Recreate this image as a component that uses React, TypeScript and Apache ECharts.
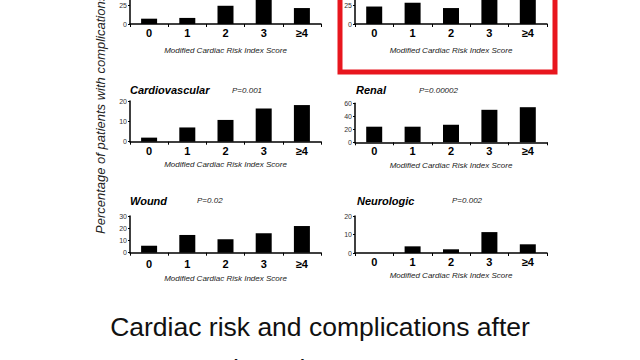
import React, { useEffect, useRef } from "react";
import * as echarts from "echarts";

const categories = ["0", "1", "2", "3", "≥4"];
const topLeftValues = [7, 8, 24, 38, 21];
const topRightValues = [23, 28, 21, 40, 40];
const cardiovascularValues = [2, 7, 10.7, 16.3, 18];
const renalValues = [24, 24, 27, 50, 54];
const woundValues = [5.7, 14.5, 11, 15.8, 21.8];
const neurologicValues = [0, 3.6, 2, 11.3, 4.7];

const panelTitles = ["", "", "Cardiovascular", "Renal", "Wound", "Neurologic"];
const pValues = ["", "", "P=0.001", "P=0.00002", "P=0.02", "P=0.002"];
const yMax = [31.6, 31.6, 20, 60, 30, 20];
const yInterval = [25, 25, 10, 20, 10, 10];
const xAxisName = "Modified Cardiac Risk Index Score";
const yAxisTitle = "Percentage of patients with complications";
const slideTitle1 = "Cardiac risk and complications after";
const slideTitle2 = "thoracic surgery";

const FONT = "Liberation Sans, Arial, sans-serif";

export default function App() {
  const ref = useRef<HTMLDivElement>(null);
  useEffect(() => {
    document.body.style.margin = "0";
    if (!ref.current) return;
    const chart = echarts.init(ref.current, null, { renderer: "svg" });
    const values = [topLeftValues, topRightValues, cardiovascularValues, renalValues, woundValues, neurologicValues];
    // grid geometry: [left, top, width, height]
    const grids = [
      [130, 0, 191, 24],
      [355, 0, 192, 24],
      [130, 101, 191, 40.7],
      [355, 103.3, 192, 39],
      [130, 216, 191, 36.7],
      [355, 216, 192, 37],
    ];
    const labelMargins = [3, 3, 4, 3, 6, 3];
    const nameGaps = [22, 22, 19, 18.7, 21.6, 18];
    const titlePos = [
      null,
      null,
      [130, 90, 232],
      [356, 90, 419],
      [130, 200.7, 197],
      [357, 200.7, 452],
    ];
    const graphic: any[] = [];
    titlePos.forEach((p, i) => {
      if (!p) return;
      graphic.push({
        type: "text",
        x: p[0],
        y: p[1],
        style: { text: panelTitles[i], font: `italic bold 11px ${FONT}`, fill: "#000", verticalAlign: "middle", textAlign: "left" },
      });
      graphic.push({
        type: "text",
        x: p[2],
        y: p[1],
        style: { text: pValues[i], font: `italic 8px ${FONT}`, fill: "#222", verticalAlign: "middle", textAlign: "left" },
      });
    });
    graphic.push({
      type: "text",
      x: 100,
      y: 234,
      rotation: Math.PI / 2,
      style: { text: yAxisTitle, font: `italic 13px ${FONT}`, fill: "#222", verticalAlign: "middle", textAlign: "left" },
    });
    graphic.push({
      type: "text",
      x: 320,
      y: 327,
      style: { text: slideTitle1, font: `26.5px ${FONT}`, fill: "#111", verticalAlign: "middle", textAlign: "center" },
    });
    graphic.push({
      type: "text",
      x: 320,
      y: 369,
      style: { text: slideTitle2, font: `26.5px ${FONT}`, fill: "#111", verticalAlign: "middle", textAlign: "center" },
    });
    graphic.push({
      type: "rect",
      shape: { x: 340, y: -20, width: 215, height: 92 },
      style: { fill: "none", stroke: "#e8161e", lineWidth: 5 },
    });

    chart.setOption({
      animation: false,
      backgroundColor: "#fff",
      grid: grids.map((g) => ({ left: g[0], top: g[1], width: g[2], height: g[3], containLabel: false })),
      xAxis: grids.map((_, i) => ({
        type: "category",
        gridIndex: i,
        data: categories,
        axisLine: { show: true, lineStyle: { color: "#000", width: 1.5 } },
        axisTick: { show: true, length: 3, alignWithLabel: false, lineStyle: { color: "#000", width: 1 } },
        axisLabel: { fontSize: 11, fontWeight: "bold", color: "#000", margin: labelMargins[i], fontFamily: FONT },
        name: xAxisName,
        nameLocation: "middle",
        nameGap: nameGaps[i],
        nameTextStyle: { fontSize: 8, fontStyle: "italic", color: "#222", fontFamily: FONT },
      })),
      yAxis: grids.map((_, i) => ({
        type: "value",
        gridIndex: i,
        min: 0,
        max: yMax[i],
        interval: yInterval[i],
        axisLine: { show: true, lineStyle: { color: "#000", width: 1.5 } },
        axisTick: { show: true, length: 2, lineStyle: { color: "#000", width: 1 } },
        splitLine: { show: false },
        axisLabel: { fontSize: 7, color: "#333", margin: 3, fontFamily: FONT, showMaxLabel: i < 2 ? false : true },
      })),
      series: values.map((v, i) => ({
        type: "bar",
        xAxisIndex: i,
        yAxisIndex: i,
        data: v,
        barWidth: 16,
        clip: true,
        itemStyle: { color: "#000" },
      })),
      graphic,
    });
    return () => chart.dispose();
  }, []);
  return <div ref={ref} style={{ width: 640, height: 360, background: "#fff" }} />;
}
